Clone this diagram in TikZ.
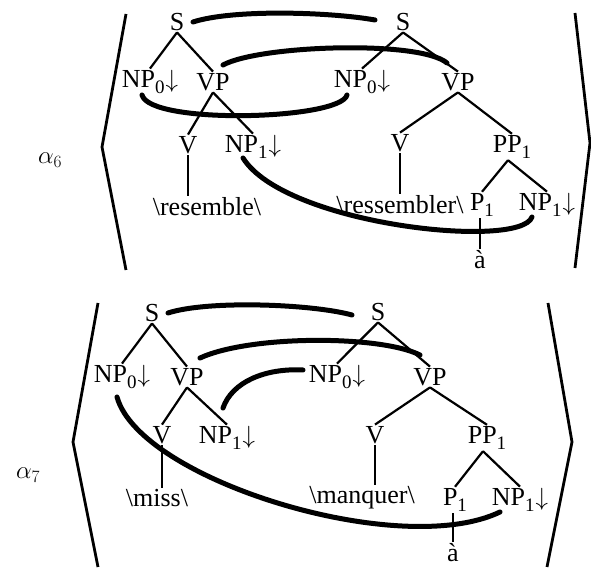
\documentclass[tikz,border=0pt]{standalone}
\usepackage{fontspec}
\setmainfont{Liberation Serif}
\newcommand{\lowidx}[1]{\raisebox{-0.5ex}{\fontsize{19}{19}\selectfont #1}}
\newcommand{\dnarrow}{\kern1pt$\downarrow$}

\begin{document}
\begin{tikzpicture}[
				x = 1pt, y = 1pt, % one unit is one pixel
				every node/.style = {font=\fontsize{26}{30}\selectfont, inner sep=1.5pt},
				tree/.style = {line width=2.2pt}, % branches of the trees
				link/.style = {line width=5pt, line cap=round}, % thick links between trees
				bracket/.style = {line width=2.8pt, line join=miter}
				]
				\useasboundingbox (0,0) rectangle (591,570);
				
				% alpha 6: english tree
				\node (aS) at (177,548) {S};
				\node (aNPz) at (150,488) {NP\lowidx{0}\dnarrow};
				\node (aVP) at (213,488) {VP};
				\node (aV) at (188,425) {V};
				\node (aNPo) at (253,423) {NP\lowidx{1}\dnarrow};
				\node (aRes) at (207,363) {\textbackslash resemble\textbackslash};
				
				% alpha 6: french tree
				\node (bS) at (403,548) {S};
				\node (bNPz) at (362,488) {NP\lowidx{0}\dnarrow};
				\node (bVP) at (458,488) {VP};
				\node (bV) at (400,427) {V};
				\node (bPP) at (512,423) {PP\lowidx{1}};
				\node (bRess) at (400,365) {\textbackslash ressembler\textbackslash};
				\node (bP) at (482,365) {P\lowidx{1}};
				\node (bNPo) at (547,365) {NP\lowidx{1}\dnarrow};
				\node (bA) at (480,310) {à};
				
				\node (lblA) at (50,410) {$\alpha_6$};
				
				\path[tree] (aS.south) edge (aNPz.north) edge (aVP.north);
				\path[tree] (aVP.south) edge (aV.north) edge (aNPo.north);
				\draw[tree] (aV.south) -- (aV.south |- aRes.north);
				\path[tree] (bS.south) edge (bNPz.north) edge (bVP.north);
				\path[tree] (bVP.south) edge (bV.north) edge (bPP.north);
				\draw[tree] (bV.south) -- (bV.south |- bRess.north);
				\path[tree] ([xshift=-4pt]bPP.south) edge (bP.north) edge (bNPo.north);
				\draw[tree] ([xshift=-2pt]bP.south) -- ([xshift=-2pt]bP.south |- bA.north);
				
				\draw[link] ([shift={(16,0)}]aS.center) .. controls +(40,13) and +(-45,8) .. ([shift={(-28,2)}]bS.center);
				\draw[link] ([shift={(10,17)}]aVP.center) .. controls +(37,20) and +(-27,23) .. ([shift={(-11,19)}]bVP.center);
				\draw[link] ([shift={(-8,-13)}]aNPz.center) .. controls +(8,-30) and +(-7,-25) .. ([shift={(-15,-13)}]bNPz.center);
				\draw[link] ([shift={(-10,-11)}]aNPo.center) .. controls +(42,-67) and +(-12,-33) .. ([shift={(-15,-12)}]bNPo.center);
				
				\draw[bracket] (126,556) -- (102,423) -- (126,300);
				\draw[bracket] (575,557) -- (590,427) -- (575,302);
				
				% alpha 7: english tree
				\node (cS) at (152,257) {S};
				\node (cNPz) at (122,193) {NP\lowidx{0}\dnarrow};
				\node (cVP) at (187,193) {VP};
				\node (cV) at (162,135) {V};
				\node (cNPo) at (227,132) {NP\lowidx{1}\dnarrow};
				\node (cMiss) at (157,72) {\textbackslash miss\textbackslash};
				
				% alpha 7: french tree
				\node (dS) at (378,258) {S};
				\node (dNPz) at (337,193) {NP\lowidx{0}\dnarrow};
				\node (dVP) at (430,193) {VP};
				\node (dV) at (375,135) {V};
				\node (dPP) at (487,132) {PP\lowidx{1}};
				\node (dMan) at (362,72) {\textbackslash manquer\textbackslash};
				\node (dP) at (455,70) {P\lowidx{1}};
				\node (dNPo) at (520,70) {NP\lowidx{1}\dnarrow};
				\node (dA) at (453,17) {à};
				
				\node (lblB) at (28,95) {$\alpha_7$};
				
				\path[tree] (cS.south) edge (cNPz.north) edge (cVP.north);
				\path[tree] (cVP.south) edge (cV.north) edge (cNPo.north);
				\draw[tree] (cV.south) -- (cV.south |- cMiss.north);
				\path[tree] (dS.south) edge (dNPz.north) edge (dVP.north);
				\path[tree] (dVP.south) edge (dV.north) edge (dPP.north);
				\draw[tree] (dV.south) -- (dV.south |- dMan.north);
				\path[tree] ([xshift=-4pt]dPP.south) edge (dP.north) edge (dNPo.north);
				\draw[tree] ([xshift=-2pt]dP.south) -- ([xshift=-2pt]dP.south |- dA.north);
				
				\draw[link] ([shift={(16,0)}]cS.center) .. controls +(40,13) and +(-40,11) .. ([shift={(-26,-3)}]dS.center);
				\draw[link] ([shift={(13,19)}]cVP.center) .. controls +(50,23) and +(-40,20) .. ([shift={(-10,22)}]dVP.center);
				\draw[link] ([shift={(-4,30)}]cNPo.center) .. controls +(9,26) and +(-38,2) .. ([shift={(-34,7)}]dNPz.center);
				\draw[link] ([shift={(-5,-20)}]cNPz.center) .. controls +(23,-83) and +(-100,-48) .. ([shift={(-20,-12)}]dNPo.center);
				
				\draw[bracket] (98,267) -- (73,128) -- (98,3);
				\draw[bracket] (548,267) -- (572,128) -- (547,3);
				
			\end{tikzpicture}
\end{document}
